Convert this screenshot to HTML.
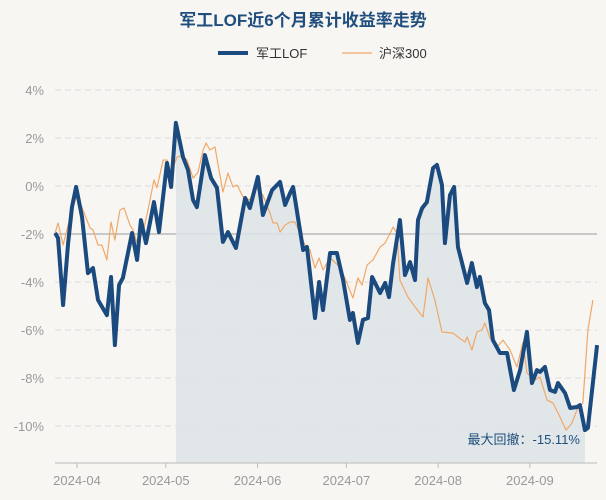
<!DOCTYPE html>
<html><head><meta charset="utf-8">
<style>
body{margin:0;background:#f8f6f2;font-family:"Liberation Sans","Noto Sans CJK SC",sans-serif;}
svg{display:block}
</style></head><body>
<svg id="chart" width="606" height="500" viewBox="0 0 606 500" xmlns="http://www.w3.org/2000/svg">
<rect x="0" y="0" width="606" height="500" fill="#f8f6f2"/>
<text x="303" y="26" text-anchor="middle" font-size="17" font-weight="bold" fill="#1f4e7e" font-family="Liberation Sans, Noto Sans CJK SC, sans-serif">军工LOF近6个月累计收益率走势</text>
<g>
<line x1="218" y1="53" x2="248" y2="53" stroke="#1b4a7e" stroke-width="4"/>
<text x="256" y="58" font-size="13" fill="#333" font-family="Liberation Sans, Noto Sans CJK SC, sans-serif">军工LOF</text>
<line x1="342" y1="53" x2="372" y2="53" stroke="#f0a868" stroke-width="1.2"/>
<text x="379" y="58" font-size="13" fill="#333" font-family="Liberation Sans, Noto Sans CJK SC, sans-serif">沪深300</text>
</g>
<g id="grid"></g>
<g id="area"></g>
<g id="lines"></g>
<g id="axes"></g>
<text x="580" y="444" text-anchor="end" font-size="13" fill="#1f4e7e" font-family="Liberation Sans, Noto Sans CJK SC, sans-serif">最大回撤：-15.11%</text>
</svg>
<script>
// x = days since 2024-04-01, y = cumulative return %
const fundDays = [-7.4,-6.4,-4.7,-3.0,-1.7,-0.3,1.7,3.7,5.4,7.1,10.1,11.5,12.8,14.2,15.5,18.6,20.3,21.6,23.3,26.0,27.7,30.4,31.8,33.4,35.8,37.5,39.2,40.5,43.2,45.3,47.3,49.3,51.0,53.7,56.8,58.4,61.1,62.8,65.9,68.6,70.3,72.0,73.0,76.4,77.7,80.4,81.8,83.1,85.5,87.8,89.9,92.2,93.2,94.9,96.6,98.3,99.7,102.4,104.1,105.4,106.8,109.1,110.8,112.5,114.2,115.2,116.6,118.2,120.3,121.6,123.3,124.3,126.0,127.4,128.7,131.8,133.4,135.1,136.1,137.8,139.2,140.5,142.9,145.3,147.6,149.7,152.0,153.7,155.4,156.4,158.1,159.8,161.5,162.5,164.9,166.6,168.9,169.9,171.6,172.6,175.7];
const fundValues = [-1.96,-2.17,-4.96,-2.38,-0.88,-0.04,-1.29,-3.63,-3.42,-4.75,-5.38,-3.79,-6.63,-4.13,-3.83,-1.96,-3.08,-1.42,-2.38,-0.67,-1.92,0.96,-0.04,2.63,1.21,0.67,-0.58,-0.88,1.29,0.33,-0.08,-2.33,-1.92,-2.58,-0.5,-0.92,0.38,-1.21,-0.17,0.17,-0.79,-0.29,-0.04,-2.67,-2.54,-5.5,-4.0,-5.17,-2.79,-2.79,-3.92,-5.58,-5.29,-6.54,-5.58,-5.5,-3.79,-4.46,-4.04,-4.63,-3.21,-1.42,-3.71,-3.17,-3.92,-1.42,-0.92,-0.67,0.75,0.88,0.04,-2.38,-0.38,-0.04,-2.54,-4.04,-3.21,-4.21,-3.79,-4.88,-5.17,-6.42,-6.96,-6.96,-8.5,-7.67,-6.08,-8.21,-7.67,-7.75,-7.54,-8.5,-8.58,-8.21,-8.63,-9.25,-9.21,-9.13,-10.17,-10.08,-6.63];
const idxDays = [-7.4,-6.4,-4.7,-1.7,0,2.0,4.4,5.4,7.1,8.4,10.1,11.5,12.8,14.5,15.9,17.9,18.9,20.3,22.3,24.0,26.0,27.0,29.1,30.4,31.8,33.8,35.5,37.2,39.2,40.9,42.6,43.6,44.9,46.6,49.3,51.0,52.7,54.1,56.1,58.4,60.1,62.8,65.2,66.2,67.6,68.6,70.3,72.0,73.6,75.3,77.0,78.7,80.4,81.8,83.1,85.5,88.9,91.2,93.2,94.9,96.3,98.0,100.0,102.4,104.1,106.8,108.1,109.1,111.8,114.2,116.9,118.6,120.9,123.3,127.0,130.1,131.1,131.8,133.4,135.1,136.8,137.8,139.5,141.9,143.9,146.3,148.6,150.7,152.0,154.7,156.4,158.8,160.8,163.2,165.2,167.2,168.9,170.9,172.6,174.3];
const idxValues = [-1.96,-1.54,-2.46,-1.0,-0.38,-1.0,-1.75,-1.83,-2.46,-2.46,-3.08,-1.5,-2.25,-1.0,-0.92,-1.63,-1.83,-2.38,-1.92,-1.0,0.25,-0.08,1.08,1.08,0.54,1.21,1.25,1.08,0.33,0.58,1.5,1.79,1.5,1.63,-0.25,0.54,-0.04,0.04,-0.46,-0.58,-0.04,-0.38,-1.13,-1.54,-1.54,-1.92,-1.63,-1.5,-1.5,-1.96,-2.46,-2.67,-3.42,-3.0,-3.5,-3.0,-3.38,-4.04,-4.67,-3.83,-4.13,-3.29,-3.08,-2.54,-2.38,-1.71,-1.96,-3.92,-4.63,-5.04,-5.46,-3.83,-4.75,-6.08,-6.13,-6.42,-6.5,-6.29,-6.83,-6.08,-6.0,-5.71,-6.33,-6.71,-6.42,-6.83,-7.54,-6.5,-7.79,-8.08,-7.96,-8.92,-9.04,-9.63,-10.17,-9.88,-9.33,-9.04,-6.0,-4.75];
const yTicks = [4,2,0,-2,-4,-6,-8,-10];
const yTickLabels = ["4%","2%","0%","-2%","-4%","-6%","-8%","-10%"];
const monthDays = [0,30,61,91,122,153];
const monthLabels = ["2024-04","2024-05","2024-06","2024-07","2024-08","2024-09"];

const NS="http://www.w3.org/2000/svg";
const X0=55,X1=597,YB=463;
const xs=d=>77+d*2.96;
const ys=v=>186-v*24;
function mk(tag,attrs,parent){const e=document.createElementNS(NS,tag);for(const k in attrs)e.setAttribute(k,attrs[k]);parent.appendChild(e);return e;}
const grid=document.getElementById('grid'),axes=document.getElementById('axes'),area=document.getElementById('area'),lines=document.getElementById('lines');
yTicks.forEach((t,i)=>{
  const y=ys(t);
  const l=mk('line',{x1:X0,x2:X1,y1:y,y2:y,stroke:t===-2?'#c8c8c8':'#dcdcdc','stroke-width':t===-2?2:1,'stroke-dasharray':t===-2?'none':'6,4'},grid);
  
  
  const tx=mk('text',{x:44,y:y+5,'text-anchor':'end','font-size':13,fill:'#999','font-family':'Liberation Sans, sans-serif'},axes);
  tx.textContent=yTickLabels[i];
  
  
});
const ax=mk('line',{x1:X0,x2:X1,y1:YB,y2:YB,stroke:'#bbb','stroke-width':1},axes);


monthDays.forEach((d,i)=>{
  const x=xs(d);
  const tk=mk('line',{x1:x,x2:x,y1:YB,y2:YB+5,stroke:'#bbb'},axes);
  
  
  const tx=mk('text',{x:x,y:YB+22,'text-anchor':'middle','font-size':13,fill:'#999','font-family':'Liberation Sans, sans-serif'},axes);
  tx.textContent=monthLabels[i];
  
  
});
// drawdown shading: from max to min after it
let pk=0;fundValues.forEach((v,i)=>{if(v>fundValues[pk])pk=i;});
let tr=pk;for(let i=pk;i<fundValues.length;i++){if(fundValues[i]<fundValues[tr])tr=i;}
let d='M'+xs(fundDays[pk])+','+YB;
for(let i=pk;i<=tr;i++)d+=' L'+xs(fundDays[i])+','+ys(fundValues[i]);
d+=' L'+xs(fundDays[tr])+','+YB+' Z';
const ar=mk('path',{d:d,fill:'#dde3e8','fill-opacity':0.85},area);


const pl=(dd,vv)=>dd.map((x,i)=>xs(x)+','+ys(vv[i])).join(' ');
const l2=mk('polyline',{points:pl(idxDays,idxValues),fill:'none',stroke:'#f0a868','stroke-width':1.2,'stroke-linejoin':'round'},lines);


const l1=mk('polyline',{points:pl(fundDays,fundValues),fill:'none',stroke:'#1b4a7e','stroke-width':4,'stroke-linejoin':'round'},lines);


</script>
</body></html>
